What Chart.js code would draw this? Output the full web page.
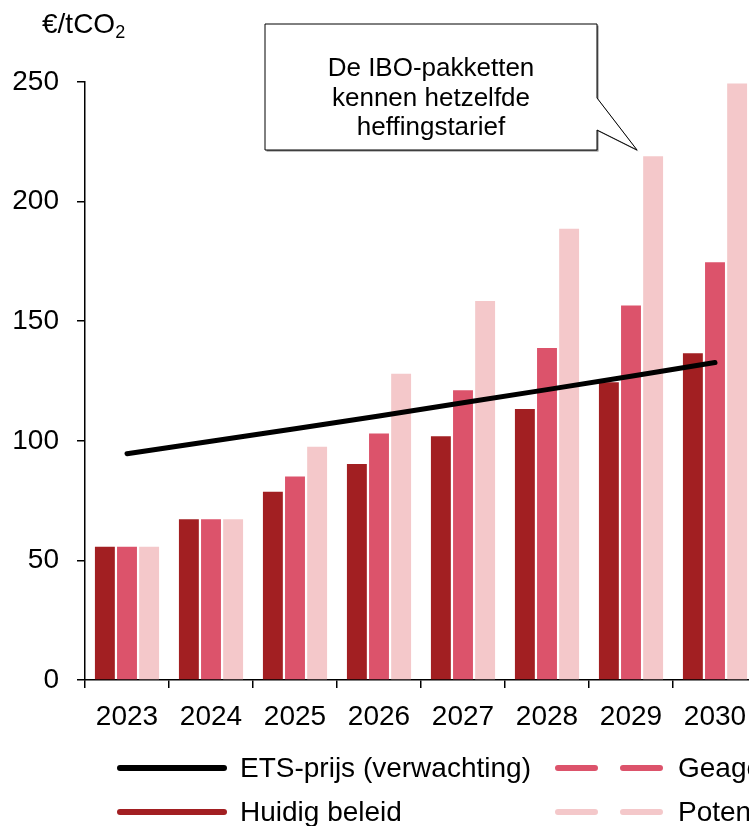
<!DOCTYPE html>
<html>
<head>
<meta charset="utf-8">
<script src="https://cdn.jsdelivr.net/npm/chart.js@4.4.1/dist/chart.umd.min.js"></script>
<style>
  html, body { margin: 0; padding: 0; background: #fff; overflow: hidden; }
  #wrap { position: relative; width: 790px; height: 826px; }
</style>
</head>
<body>
<div id="wrap"><canvas id="chart"></canvas></div>
<script>
const years = ["2023", "2024", "2025", "2026", "2027", "2028", "2029", "2030"];
const etsPrice = [94.6, 99.8, 105.0, 110.4, 115.9, 121.4, 127.0, 132.7];
const huidigBeleid = [55.7, 67.2, 78.7, 90.3, 101.9, 113.3, 124.5, 136.6];
const geagendeerd = [55.7, 67.2, 85.1, 103.0, 121.1, 138.8, 156.6, 174.6];
const potentieel = [55.7, 67.2, 97.5, 128.0, 158.4, 188.7, 219.0, 249.4];
const yTicks = [0, 50, 100, 150, 200, 250];

const FONT = "'Liberation Sans', Arial, sans-serif";
const colors = {
  ets: "#000000",
  huidig: "#a21f22",
  geag: "#dc536b",
  pot: "#f4c8ca",
};

Chart.defaults.color = "#000";
Chart.defaults.font.family = FONT;

// callout, unit label and legend drawn on top of the chart
const extras = {
  id: "extras",
  afterDraw(chart) {
    const ctx = chart.ctx;
    ctx.save();

    // unit label
    ctx.fillStyle = "#000";
    ctx.textBaseline = "middle";
    ctx.textAlign = "left";
    ctx.font = "28px " + FONT;
    ctx.fillText("€/tCO", 42, 25);
    const w = ctx.measureText("€/tCO").width;
    ctx.font = "18px " + FONT;
    ctx.fillText("2", 42 + w, 33);

    // callout box with tail
    ctx.beginPath();
    ctx.moveTo(265, 24);
    ctx.lineTo(597, 24);
    ctx.lineTo(597, 98);
    ctx.lineTo(637, 150);
    ctx.lineTo(597, 130);
    ctx.lineTo(597, 150);
    ctx.lineTo(265, 150);
    ctx.closePath();
    ctx.shadowColor = "rgba(0,0,0,0.5)";
    ctx.shadowOffsetX = 1.5;
    ctx.shadowOffsetY = 1.5;
    ctx.fillStyle = "#fff";
    ctx.fill();
    ctx.shadowColor = "transparent";
    ctx.lineWidth = 1;
    ctx.strokeStyle = "#000";
    ctx.stroke();

    ctx.fillStyle = "#000";
    ctx.textAlign = "center";
    ctx.font = "26px " + FONT;
    ["De IBO-pakketten", "kennen hetzelfde", "heffingstarief"].forEach((t, i) => {
      ctx.fillText(t, 431, 69 + i * 29.5);
    });

    // legend
    const ds = chart.data.datasets;
    const items = [
      { d: ds[0], x: 120, y: 768, dashed: false },
      { d: ds[2], x: 558, y: 768, dashed: true },
      { d: ds[1], x: 120, y: 812, dashed: false },
      { d: ds[3], x: 558, y: 812, dashed: true },
    ];
    items.forEach((it) => {
      ctx.beginPath();
      ctx.lineWidth = 6;
      ctx.lineCap = "round";
      ctx.strokeStyle = it.d.type === "line" ? it.d.borderColor : it.d.backgroundColor;
      ctx.setLineDash(it.dashed ? [37, 28] : []);
      ctx.moveTo(it.x, it.y);
      ctx.lineTo(it.x + 104, it.y);
      ctx.stroke();
      ctx.setLineDash([]);
      ctx.fillStyle = "#000";
      ctx.textAlign = "left";
      ctx.font = "28px " + FONT;
      ctx.fillText(it.d.label, it.x + 120, it.y + 1);
    });

    ctx.restore();
  },
};

new Chart(document.getElementById("chart"), {
  type: "bar",
  data: {
    labels: years,
    datasets: [
      {
        type: "line",
        label: "ETS-prijs (verwachting)",
        data: etsPrice,
        borderColor: colors.ets,
        borderWidth: 5,
        borderCapStyle: "round",
        pointRadius: 0,
        tension: 0,
      },
      { label: "Huidig beleid", data: huidigBeleid, backgroundColor: colors.huidig },
      { label: "Geagendeerd beleid", data: geagendeerd, backgroundColor: colors.geag },
      { label: "Potentieel", data: potentieel, backgroundColor: colors.pot },
    ],
  },
  options: {
    responsive: true,
    maintainAspectRatio: false,
    animation: false,
    datasets: {
      bar: { categoryPercentage: 0.79, barPercentage: 0.9 },
    },
    layout: { padding: { top: 82, right: 33, bottom: 86, left: 0 } },
    plugins: {
      legend: { display: false },
      tooltip: { enabled: false },
    },
    scales: {
      x: {
        grid: {
          display: true,
          drawOnChartArea: false,
          drawTicks: true,
          tickLength: 8,
          color: "#000",
          lineWidth: 1.5,
        },
        border: { display: true, color: "#000", width: 1.5 },
        ticks: { font: { size: 28 }, padding: 12, maxRotation: 0 },
        afterFit(scale) {
          scale.height = 60;
        },
      },
      y: {
        min: 0,
        max: 250,
        afterBuildTicks(scale) {
          scale.ticks = yTicks.map((v) => ({ value: v }));
        },
        grid: {
          display: true,
          drawOnChartArea: false,
          drawTicks: true,
          tickLength: 8,
          color: "#000",
          lineWidth: 1.5,
        },
        border: { display: true, color: "#000", width: 1.5 },
        ticks: { font: { size: 28 }, padding: 18 },
        afterFit(scale) {
          scale.width = 85;
        },
      },
    },
  },
  plugins: [extras],
});
</script>
</body>
</html>
